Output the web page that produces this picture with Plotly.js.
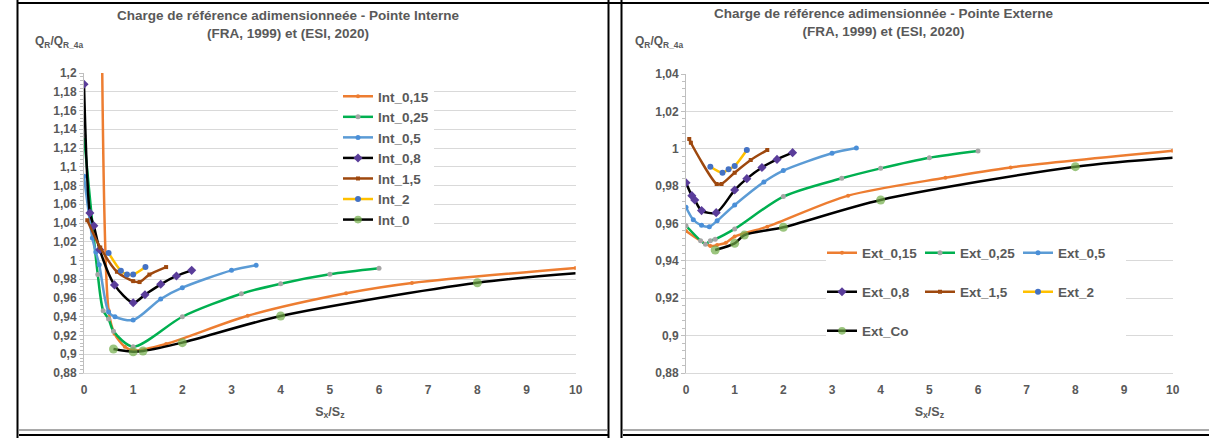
<!DOCTYPE html>
<html>
<head>
<meta charset="utf-8">
<script src="https://cdn.plot.ly/plotly-3.0.1.min.js"></script>
<style>html,body{margin:0;padding:0;background:#fff;overflow:hidden;}#chart{width:1209px;height:438px;}</style>
</head>
<body>
<div id="chart"></div>
<script>
// ---------- DATA : Pointe Interne ----------
const int015_x = [0.35, 0.5, 0.62, 0.83, 1.0, 1.67, 3.33, 5.33, 6.67, 10];
const int015_y = [1.33, 0.947, 0.922, 0.908, 0.904, 0.911, 0.941, 0.965, 0.976, 0.992];
const int025_x = [0, 0.28, 0.39, 0.5, 0.6, 1.0, 2.0, 3.2, 4.0, 5.0, 6.0];
const int025_y = [1.133, 0.985, 0.9465, 0.9376, 0.9245, 0.908, 0.94, 0.9646, 0.9753, 0.9853, 0.9917];
const int05_x = [0, 0.17, 0.24, 0.31, 0.5, 0.63, 1.0, 1.56, 2.0, 3.0, 3.5];
const int05_y = [1.09, 1.024, 1.009, 0.9955, 0.945, 0.94, 0.9365, 0.959, 0.971, 0.9895, 0.995];
const int08_x = [0, 0.12, 0.2, 0.32, 0.62, 1.0, 1.24, 1.56, 1.88, 2.19];
const int08_y = [1.188, 1.0507, 1.037, 1.0116, 0.974, 0.955, 0.9635, 0.9746, 0.9835, 0.9895];
const int15_x = [0.067, 0.33, 0.67, 1.0, 1.13, 1.33, 1.67];
const int15_y = [1.043, 1.014, 0.988, 0.978, 0.977, 0.985, 0.993];
const int2_x = [0.5, 0.75, 0.875, 1.0, 1.25];
const int2_y = [1.008, 0.989, 0.985, 0.985, 0.993];
const int0_x = [0.6, 1.0, 1.2, 2.0, 4.0, 8.0, 10];
const int0_y = [0.9056, 0.9027, 0.9035, 0.9124, 0.9408, 0.9763, 0.9863];

// ---------- DATA : Pointe Externe ----------
const ext015_x = [0, 0.5, 0.64, 0.82, 1.0, 1.67, 3.33, 5.33, 6.67, 10];
const ext015_y = [0.956, 0.948, 0.9485, 0.9497, 0.953, 0.9583, 0.9749, 0.9845, 0.99, 0.9989];
const ext025_x = [0, 0.3, 0.4, 0.5, 0.6, 1.0, 2.0, 3.2, 4.0, 5.0, 6.0];
const ext025_y = [0.9588, 0.9508, 0.9489, 0.9508, 0.9516, 0.9571, 0.9744, 0.9842, 0.9895, 0.9952, 0.9988];
const ext05_x = [0, 0.15, 0.32, 0.48, 0.64, 1.0, 1.6, 2.0, 3.0, 3.5];
const ext05_y = [0.9687, 0.962, 0.959, 0.9583, 0.9615, 0.9699, 0.9822, 0.9883, 0.9976, 1.0004];
const ext08_x = [0, 0.12, 0.18, 0.32, 0.62, 1.0, 1.25, 1.56, 1.87, 2.19];
const ext08_y = [0.9818, 0.9749, 0.9726, 0.9669, 0.9658, 0.9779, 0.984, 0.99, 0.9943, 0.9979];
const ext15_x = [0.067, 0.1, 0.63, 0.73, 1.0, 1.33, 1.67];
const ext15_y = [1.0052, 1.0032, 0.9812, 0.9812, 0.9872, 0.994, 0.9993];
const ext2_x = [0.5, 0.75, 0.875, 1.0, 1.25];
const ext2_y = [0.9904, 0.9872, 0.989, 0.9908, 0.9993];
const extco_x = [0.6, 1.0, 1.2, 2.0, 4.0, 8.0, 10];
const extco_y = [0.9458, 0.9494, 0.9538, 0.958, 0.9726, 0.9904, 0.9952];

const leftNames = ['Int_0,15', 'Int_0,25', 'Int_0,5', 'Int_0,8', 'Int_1,5', 'Int_2', 'Int_0'];
const rightNames = ['Ext_0,15', 'Ext_0,25', 'Ext_0,5', 'Ext_0,8', 'Ext_1,5', 'Ext_2', 'Ext_Co'];
const leftTitle = 'Charge de référence adimensionneée - Pointe Interne<br>(FRA, 1999) et (ESI, 2020)';
const rightTitle = 'Charge de référence adimensionnée - Pointe Externe<br>(FRA, 1999) et (ESI, 2020)';
const yTitle = 'Q<sub>R</sub>/Q<sub>R_4a</sub>';
const xTitle = 'S<sub>x</sub>/S<sub>z</sub>';

// ---------- STYLE / LAYOUT ----------
const W = 1209, H = 438;
const fx = v => v / W;
const fy = v => 1 - v / H;
const FONT = 'Liberation Sans, Arial, sans-serif';
const GREY = '#595959';

const styles = [
  {c: '#ed7d31', m: '#ed7d31', s: 'circle', z: 4},
  {c: '#00b050', m: '#a5a5a5', s: 'circle', z: 5},
  {c: '#5b9bd5', m: '#4a8fd8', s: 'circle', z: 5},
  {c: '#000000', m: '#5a3d9a', s: 'diamond', z: 7},
  {c: '#9e480e', m: '#9e480e', s: 'square', z: 4},
  {c: '#ffc000', m: '#4472c4', s: 'circle', z: 6},
  {c: '#000000', m: '#70ad47', s: 'circle', z: 9}
];

function tr(x, y, name, st, xa, ya, lg) {
  let size = st.z;
  if (st.z === 9) size = x.map((v, i) => i === x.length - 1 ? 0 : 9);
  return {
    x: x, y: y, name: name, type: 'scatter', mode: 'lines+markers',
    xaxis: xa, yaxis: ya, legend: lg,
    line: {color: st.c, width: 2.5, shape: 'spline', smoothing: 0.8},
    marker: {color: st.m, symbol: st.s, size: size, line: {width: 0}}
  };
}

const L = [[int015_x,int015_y],[int025_x,int025_y],[int05_x,int05_y],[int08_x,int08_y],[int15_x,int15_y],[int2_x,int2_y],[int0_x,int0_y]];
const R = [[ext015_x,ext015_y],[ext025_x,ext025_y],[ext05_x,ext05_y],[ext08_x,ext08_y],[ext15_x,ext15_y],[ext2_x,ext2_y],[extco_x,extco_y]];
const rowLegend = ['legend2','legend2','legend2','legend3','legend3','legend3','legend4'];

const data = [];
L.forEach((d, i) => data.push(tr(d[0], d[1], leftNames[i], styles[i], 'x', 'y', 'legend')));
R.forEach((d, i) => data.push(tr(d[0], d[1], rightNames[i], styles[i], 'x2', 'y2', rowLegend[i])));

const tickfont = {family: FONT, size: 12, color: GREY, weight: 'bold'};
function xax(dom, anchor) {
  return {domain: dom, anchor: anchor, range: [0, 10], dtick: 1, showgrid: false, zeroline: false, automargin: false,
    showline: true, linecolor: '#d9d9d9', linewidth: 1, ticks: '', tickfont: tickfont, ticklabelstandoff: 6,
    title: {text: xTitle, font: {family: FONT, size: 12.5, color: GREY, weight: 'bold'}, standoff: 10}};
}
function yax(dom, anchor, range) {
  return {domain: dom, anchor: anchor, range: range, dtick: 0.02, showgrid: true, gridcolor: '#d9d9d9', gridwidth: 1,
    zeroline: false, automargin: false, showline: true, linecolor: '#bfbfbf', linewidth: 1, ticks: 'outside', ticklen: 4, tickcolor: '#bfbfbf',
    minor: {ticks: 'outside', ticklen: 3, dtick: 0.004, tickcolor: '#bfbfbf', showgrid: false},
    tickfont: tickfont};
}
const legFont = {family: FONT, size: 13.5, color: GREY, weight: 'bold'};
function rowLeg(y) {
  return {orientation: 'h', x: fx(822), xanchor: 'left', y: fy(y), yanchor: 'middle', bgcolor: 'rgba(0,0,0,0)',
    font: legFont, entrywidth: 53, entrywidthmode: 'pixels', itemwidth: 30, traceorder: 'normal'};
}
const titleFont = {family: FONT, size: 13.5, color: GREY, weight: 'bold'};

const blk = (x0, y0, x1, y1, c, w) => ({type: 'line', xref: 'paper', yref: 'paper', x0: fx(x0), y0: fy(y0), x1: fx(x1), y1: fy(y1), line: {color: c, width: w}});

const layout = {
  width: W, height: H, margin: {l: 0, r: 0, t: 0, b: 0, autoexpand: false},
  paper_bgcolor: '#ffffff', plot_bgcolor: 'rgba(0,0,0,0)',
  separators: ', ',
  font: {family: FONT, color: GREY},
  showlegend: true,
  title: {text: leftTitle, x: fx(288), xanchor: 'center', xref: 'container', y: fy(20), yanchor: 'top', yref: 'container', font: titleFont, automargin: false},
  xaxis: xax([fx(84), fx(575.7)], 'y'),
  yaxis: yax([fy(373), fy(73)], 'x', [0.88, 1.2]),
  xaxis2: xax([fx(686), fx(1172.7)], 'y2'),
  yaxis2: yax([fy(373), fy(74)], 'x2', [0.88, 1.04]),
  legend: {x: fx(338), xanchor: 'left', y: fy(81), yanchor: 'top', bgcolor: '#ffffff', font: legFont, itemwidth: 30, traceorder: 'normal'},
  legend2: rowLeg(253),
  legend3: rowLeg(292),
  legend4: rowLeg(331),
  annotations: [
    {text: rightTitle, xref: 'paper', yref: 'paper', x: fx(884), y: fy(4), xanchor: 'center', yanchor: 'top', showarrow: false, font: titleFont},
    {text: yTitle, xref: 'paper', yref: 'paper', x: fx(33), y: fy(42), xanchor: 'left', yanchor: 'middle', showarrow: false, font: {family: FONT, size: 12, color: GREY, weight: 'bold'}},
    {text: yTitle, xref: 'paper', yref: 'paper', x: fx(633), y: fy(42), xanchor: 'left', yanchor: 'middle', showarrow: false, font: {family: FONT, size: 12, color: GREY, weight: 'bold'}}
  ],
  shapes: [
    {type: 'rect', xref: 'paper', yref: 'paper', layer: 'above', x0: fx(826), x1: fx(1126), y0: fy(348), y1: fy(238), fillcolor: '#ffffff', line: {width: 0}},
    blk(17.5, 0, 17.5, 438, '#000000', 2),
    blk(608.5, 0, 608.5, 438, '#000000', 2),
    blk(621.5, 0, 621.5, 438, '#000000', 2),
    blk(17, 3, 1209, 3, '#000000', 2),
    blk(19, 430, 608, 430, '#8c8c8c', 1.5),
    blk(623, 430, 1209, 430, '#8c8c8c', 1.5),
    blk(19, 435, 608, 435, '#000000', 2),
    blk(623, 435, 1209, 435, '#000000', 2)
  ]
};

Plotly.newPlot('chart', data, layout, {displayModeBar: false, staticPlot: true});
</script>
</body>
</html>
